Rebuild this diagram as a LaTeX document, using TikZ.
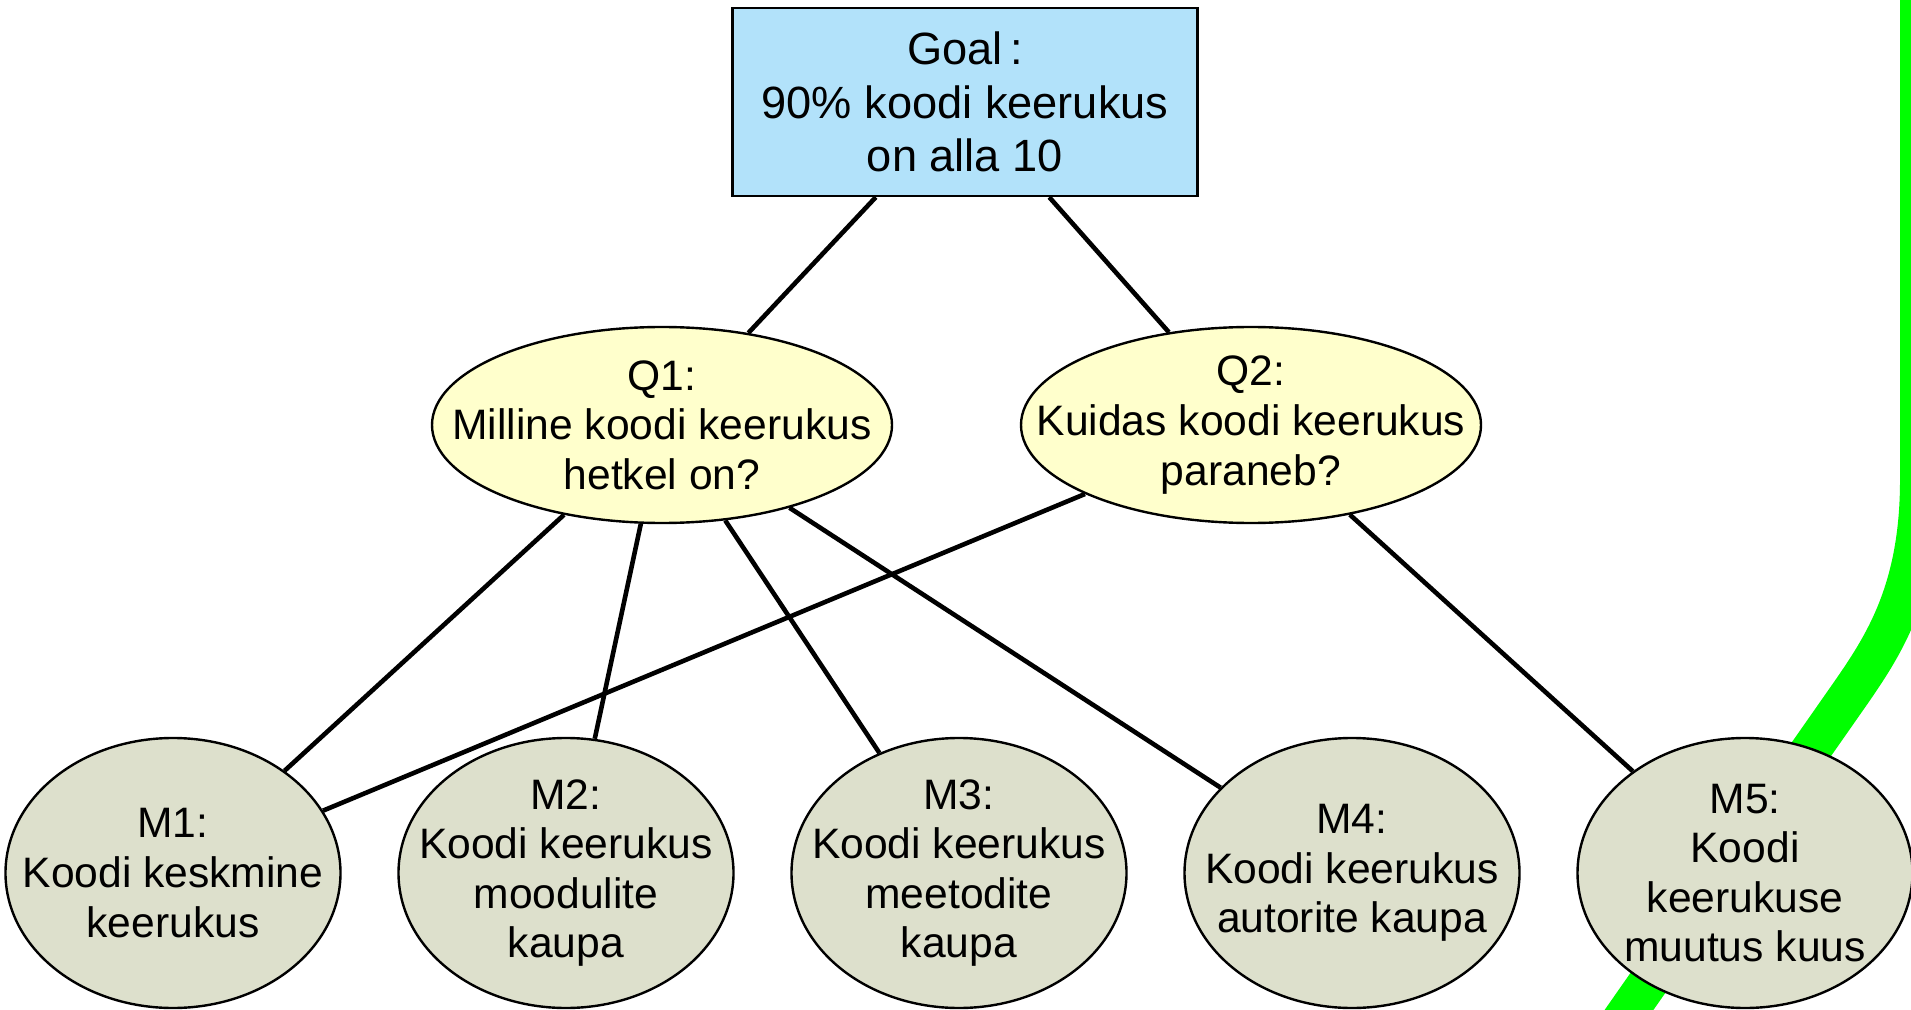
\documentclass[tikz,border=0pt]{standalone}
\usepackage{fontspec}
\setmainfont{Liberation Sans}
\usetikzlibrary{shapes.geometric}
\definecolor{goalfill}{HTML}{B2E2FA}
\definecolor{qfill}{HTML}{FFFFCC}
\definecolor{mfill}{HTML}{DDE0CC}
\definecolor{linkgreen}{HTML}{00FF00}
\tikzset{
  goalbox/.style={draw=black, line width=1.2pt, fill=goalfill, rectangle,
    minimum width=232.5pt, minimum height=94pt, inner sep=0pt,
    align=center, font=\fontsize{22.6}{26.8}\selectfont},
  qnode/.style={draw=black, line width=1.2pt, fill=qfill, ellipse,
    minimum width=230pt, minimum height=98pt, inner sep=0pt},
  mnode/.style={draw=black, line width=1.2pt, fill=mfill, ellipse,
    minimum width=167.5pt, minimum height=135pt, inner sep=0pt},
  txt/.style={align=center, inner sep=0pt, font=\fontsize{21.3}{24.8}\selectfont},
  link/.style={draw=black, line width=2.3pt},
  greenlink/.style={draw=linkgreen, line width=20pt}
}
\begin{document}
\begin{tikzpicture}[x=0.5pt, y=-0.5pt]
\useasboundingbox (0,0) rectangle (1911,1010);

% thick green connector running in from the right edge
\coordinate (g0) at (1920,-40);
\coordinate (g1) at (1920,480);
\coordinate (g2) at (1850,694);
\coordinate (g3) at (1580,1080);
\draw[greenlink] (g0) -- (g1) .. controls (1920,590) and (1884,645) .. (g2) -- (g3);

% goal
\node[goalbox] (goal) at (965,102) {Goal\,:\\90\% koodi keerukus\\on alla 10};

% questions
\node[qnode, label={[txt]center:Q1:\\Milline koodi keerukus\\hetkel on?}] (q1) at (662,425) {};
\node[qnode, label={[txt]center:Q2:\\Kuidas koodi keerukus\\paraneb?}] (q2) at (1251,425) {};

% metrics
\node[mnode, label={[txt]center:M1:\\Koodi keskmine\\keerukus}] (m1) at (173,873) {};
\node[mnode, label={[txt]center:M2:\\Koodi keerukus\\moodulite\\kaupa}] (m2) at (566,873) {};
\node[mnode, label={[txt]center:M3:\\Koodi keerukus\\meetodite\\kaupa}] (m3) at (959,873) {};
\node[mnode, label={[txt]center:M4:\\Koodi keerukus\\autorite kaupa}] (m4) at (1352,873) {};
\node[mnode, label={[txt]center:M5:\\Koodi\\keerukuse\\muutus kuus}] (m5) at (1745,873) {};

% connectors
\draw[link] (goal) -- (q1);
\draw[link] (goal) -- (q2);
\draw[link] (q1) -- (m1);
\draw[link] (q1) -- (m2);
\draw[link] (q1) -- (m3);
\draw[link] (q1) -- (m4);
\draw[link] (q2) -- (m1);
\draw[link] (q2) -- (m5);
\end{tikzpicture}
\end{document}
